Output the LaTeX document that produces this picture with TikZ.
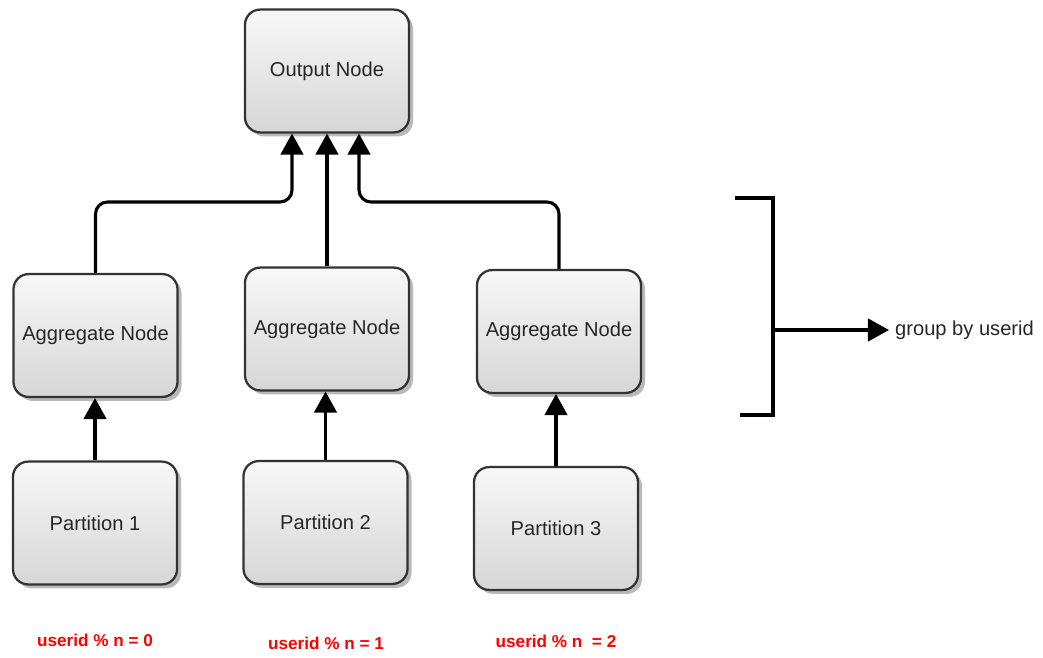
\documentclass[tikz,border=0pt]{standalone}
\usepackage{fontspec}
\setmainfont{Liberation Sans}
\usetikzlibrary{positioning, arrows.meta, shadows}

\begin{document}
\begin{tikzpicture}[x=0.025cm, y=-0.025cm, line width=2.2pt, >={Triangle[width=16pt,length=15pt]},
    box/.style={draw=black!80, line width=1.6pt, rounded corners=0.38cm, minimum width=4.1cm, minimum height=3.07cm,
      top color=gray!6, bottom color=gray!32, text=black!85, font=\fontsize{14.3}{17}\selectfont,
      drop shadow={shadow xshift=0.1cm, shadow yshift=-0.1cm, fill=gray!55, opacity=1}},
    rule/.style={text=red, font=\bfseries\fontsize{12.2}{14}\selectfont}]
    \useasboundingbox (0,0) rectangle (1043,657);
    \node[box] (output) at (327,71) {Output Node};
    \node[box] (agg1) at (95.5,335.5) {Aggregate Node};
    \node[box] (agg2) at (327,329) {Aggregate Node};
    \node[box] (agg3) at (559,331.5) {Aggregate Node};
    \node[box] (part1) at (95,523) {Partition 1};
    \node[box] (part2) at (325.5,522.5) {Partition 2};
    \node[box] (part3) at (556,528.5) {Partition 3};
    \node[rule] (rule1) at (95,640) {userid \% n = 0};
    \node[rule] (rule2) at (326,643) {userid \% n = 1};
    \node[rule] (rule3) at (556,641) {userid \% n \ = 2};
    % bracket on the right
    \coordinate (brtop) at (735,198);
    \coordinate (brbot) at (740,415);
    \coordinate (brmid) at (773,330);
    \node[anchor=west, font=\fontsize{14.3}{17}\selectfont, text=black!85] (group) at (889,330) {group by userid};
    \draw (brtop) -| (brmid) |- (brbot);
    \draw[->] (brmid) -- (group.west);
    % connectors
    \draw[->] (part1) -- (part1 |- agg1.south);
    \draw[->] (part2) -- (part2 |- agg2.south);
    \draw[->] (part3) -- (part3 |- agg3.south);
    \draw[->] (agg2) -- (output);
    \draw[->, rounded corners=0.3cm] (agg1.north) -- (agg1.north |- 0,202) -| ([xshift=-0.875cm]output.south);
    \draw[->, rounded corners=0.3cm] (agg3.north) -- (agg3.north |- 0,202) -| ([xshift=0.8cm]output.south);
\end{tikzpicture}
\end{document}
